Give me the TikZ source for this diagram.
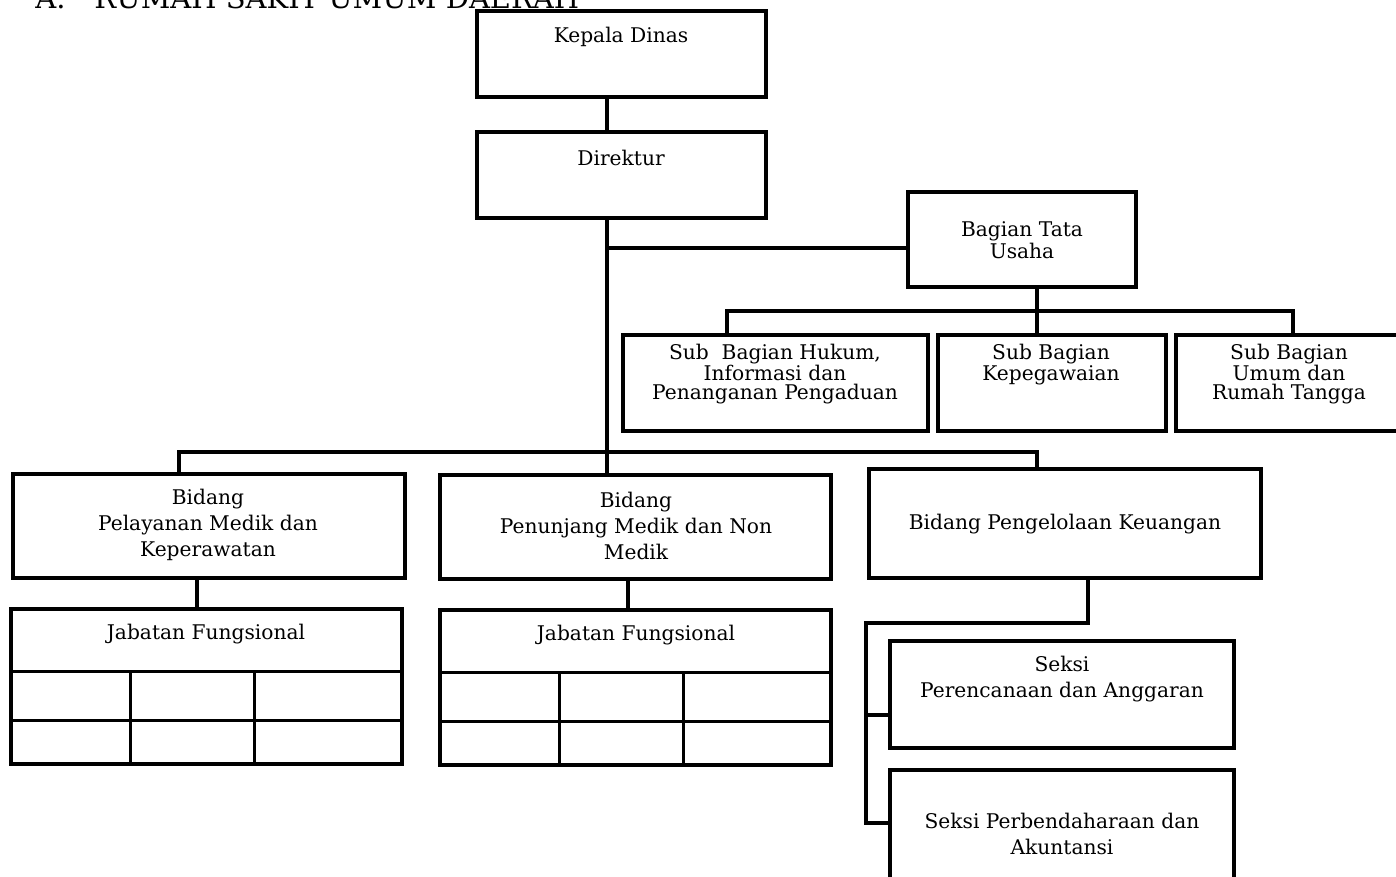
\documentclass[tikz,border=0pt]{standalone}
\usepackage{fontspec}
\setmainfont{DejaVu Serif}
\usetikzlibrary{positioning}
\usetikzlibrary{fit}
\usetikzlibrary{calc}
\tikzset{
    box/.style = {rectangle, draw=black, line width=2pt, inner sep=0pt},
    txt/.style = {align=center, inner sep=0pt, font=\fontsize{11.5}{14.8}\selectfont},
    txtr/.style = {align=center, inner sep=0pt, font=\fontsize{11.5}{10.6}\selectfont},
    edgek/.style = {line width=2pt, draw=black},
    cellk/.style = {line width=1.8pt, draw=black}
}

\begin{document}
\begin{tikzpicture}[x=0.02cm, y=-0.02cm]
\useasboundingbox (0,0) rectangle (1396,876);
\node[anchor=base west, inner sep=0pt, font=\fontsize{16.5}{18}\selectfont] (judul) at (35,8) {A.\quad RUMAH SAKIT UMUM DAERAH};
%
\node[box, fit={(477,11) (766,97)}] (kd) {};
\node[box, fit={(477,132) (766,218)}] (dir) {};
\node[box, fit={(908,192) (1136,287)}] (btu) {};
\node[box, fit={(623,335) (928,431)}] (sub1) {};
\node[box, fit={(938,335) (1166,431)}] (sub2) {};
\node[box, fit={(1176,335) (1404,431)}] (sub3) {};
\node[box, fit={(13,474) (405,578)}] (bid1) {};
\node[box, fit={(440,475) (831,579)}] (bid2) {};
\node[box, fit={(869,469) (1261,578)}] (bid3) {};
\node[box, fit={(11,609) (402,764)}] (jf1) {};
\node[box, fit={(440,610) (831,765)}] (jf2) {};
\node[box, fit={(890,641) (1234,748)}] (sk1) {};
\node[box, fit={(890,770) (1234,882)}] (sk2) {};
%
\node[txt] (kdt) at (621,37) {Kepala Dinas};
\node[txt] (dirt) at (621,158) {Direktur};
\node[txtr] (btut) at (1022,240) {Bagian Tata\\Usaha};
\node[txtr] (sub1t) at (775,374) {Sub\ \ Bagian Hukum,\\Informasi dan\\Penanganan Pengaduan};
\node[txtr] (sub2t) at (1051,365) {Sub Bagian\\Kepegawaian};
\node[txtr] (sub3t) at (1289,374) {Sub Bagian\\Umum dan\\Rumah Tangga};
\node[txt] (bid1t) at (208,525) {Bidang\\Pelayanan Medik dan\\Keperawatan};
\node[txt] (bid2t) at (636,526) {Bidang\\Penunjang Medik dan Non\\Medik};
\node[txt] (bid3t) at (1065,524) {Bidang Pengelolaan Keuangan};
\node[txt] (jf1t) at (206,634) {Jabatan Fungsional};
\node[txt] (jf2t) at (636,635) {Jabatan Fungsional};
\node[txt] (sk1t) at (1062,679) {Seksi\\Perencanaan dan Anggaran};
\node[txt] (sk2t) at (1062,834) {Seksi Perbendaharaan dan\\Akuntansi};
%
\coordinate (trunk) at (607,452);
\coordinate (tj) at (607,248);
\coordinate (sb) at (1037,311);
\coordinate (sbl) at (727,311);
\coordinate (sbr) at (1293,311);
\coordinate (bl) at (179,452);
\coordinate (br) at (1037,452);
\coordinate (j1) at (197,600);
\coordinate (j2) at (628,600);
\coordinate (k1) at (1088,623);
\coordinate (k2) at (866,623);
\coordinate (k3) at (866,715);
\coordinate (k4) at (866,823);
%
\draw[edgek] (kd.south -| trunk) -- (dir.north -| trunk);
\draw[edgek] (dir.south -| trunk) -- (bid2.north -| trunk);
\draw[edgek] (tj) -- (tj -| btu.west);
\draw[edgek] (btu.south -| sb) -- (sub2.north -| sb);
\draw[edgek] (sub1.north -| sbl) -- (sbl) -- (sbr) -- (sub3.north -| sbr);
\draw[edgek] (bid1.north -| bl) -- (bl) -- (br) -- (bid3.north -| br);
\draw[edgek] (bid1.south -| j1) -- (jf1.north -| j1);
\draw[edgek] (bid2.south -| j2) -- (jf2.north -| j2);
\draw[edgek] (bid3.south -| k1) -- (k1) -- (k2) -- (k4) -- (k4 -| sk2.west);
\draw[edgek] (k3) -- (k3 -| sk1.west);
%
\foreach \t in {jf1,jf2} {
  \draw[cellk] ($(\t.north west)+(0,64)$) -- ($(\t.north east)+(0,64)$);
  \draw[cellk] ($(\t.north west)+(0,113)$) -- ($(\t.north east)+(0,113)$);
  \draw[cellk] ($(\t.north west)+(121,64)$) -- ($(\t.south west)+(121,0)$);
  \draw[cellk] ($(\t.north west)+(245,64)$) -- ($(\t.south west)+(245,0)$);
}
\end{tikzpicture}
\end{document}
